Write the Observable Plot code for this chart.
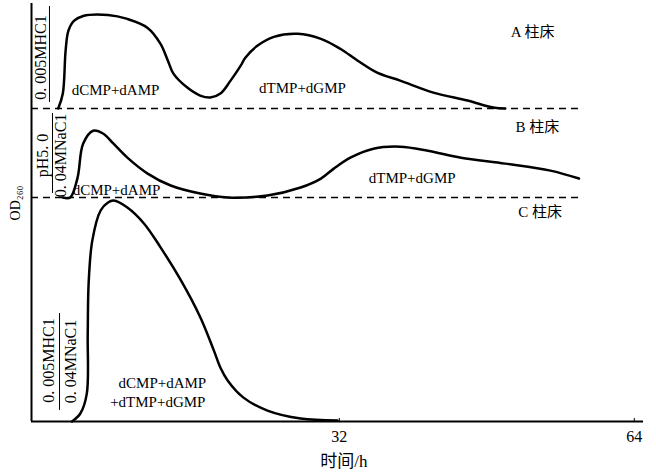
<!DOCTYPE html>
<html><head><meta charset="utf-8">
<script src="https://cdn.jsdelivr.net/npm/d3@7"></script>
<script src="https://cdn.jsdelivr.net/npm/@observablehq/plot@0.6"></script>
<style>body{margin:0;background:#fff}</style>
</head><body><div id="chart"></div>
<script>
// ---- data ----
const xTicks = [32, 64];
const xLabel = "时间/h";
const yLabel = "OD₂₆₀";
const columnNames = ["A 柱床", "B 柱床", "C 柱床"];
const columnOffsets = [3.145, 2.251, 0]; // OD offset of each column's baseline

const timeA = [1.5, 2.0, 2.3, 2.6, 3.2, 4.2, 6.9, 9.0, 11.2, 12.6, 13.4, 14.0, 15.5, 16.9, 18.0, 19.1, 20.2, 21.3, 21.8, 23.1, 24.9, 27.5, 30.0, 32.1, 34.0, 36.1, 38.6, 42.2, 45.9, 48.7, 50.0];
const odA   = [0, 0.15, 0.58, 0.78, 0.88, 0.93, 0.94, 0.90, 0.81, 0.65, 0.48, 0.35, 0.21, 0.13, 0.11, 0.15, 0.28, 0.43, 0.51, 0.63, 0.72, 0.75, 0.70, 0.60, 0.48, 0.36, 0.28, 0.16, 0.08, 0.01, 0];

const timeB = [2.0, 2.8, 3.6, 4.2, 5.3, 6.4, 7.5, 9.0, 11.2, 13.7, 16.9, 19.9, 24.2, 27.8, 30.0, 31.4, 33.2, 35.7, 38.6, 41.6, 45.2, 50.0, 54.9, 58.0];
const odB   = [0, 0, 0.20, 0.54, 0.67, 0.64, 0.54, 0.40, 0.24, 0.12, 0.04, 0, 0.02, 0.10, 0.19, 0.29, 0.40, 0.49, 0.51, 0.47, 0.40, 0.34, 0.27, 0.19];

const timeC = [3.0, 3.9, 4.6, 4.7, 4.8, 5.2, 6.1, 6.9, 7.5, 9.0, 10.8, 12.6, 14.8, 16.9, 18.4, 19.1, 19.9, 21.6, 24.2, 27.8, 31.8];
const odC   = [0, 0.08, 0.28, 0.88, 1.39, 1.82, 2.12, 2.20, 2.22, 2.15, 1.99, 1.75, 1.42, 1.05, 0.71, 0.54, 0.41, 0.24, 0.11, 0.03, 0.01];

const peakLabels = ["dCMP+dAMP", "dTMP+dGMP", "dCMP+dAMP", "dTMP+dGMP", "dCMP+dAMP", "+dTMP+dGMP"];
const eluentLabels = ["0. 005MHC1", "pH5. 0", "0. 04MNaC1", "0. 005MHC1", "0. 04MNaC1"];

// ---- build ----
const serif = "'Liberation Serif','Times New Roman','Noto Sans CJK SC',serif";
const toRows = (t, v, off) => t.map((x, i) => ({t: x, v: v[i] + off}));
const X0 = -1.4, X1 = 65;

const txt = (rows, opts) => Plot.text(rows, {x: "x", y: "y", text: "s", fill: "#000", fontFamily: serif, ...opts});

const chart = Plot.plot({
  width: 656, height: 473,
  marginLeft: 31, marginRight: 13, marginTop: 3, marginBottom: 52,
  x: {domain: [X0, X1]},
  y: {domain: [0, 4.2], axis: null},
  style: {fontFamily: serif, background: "#fff", color: "#000", overflow: "visible"},
  marks: [
    Plot.ruleY([columnOffsets[0], columnOffsets[1]], {x1: X0, x2: 58.5, stroke: "#000", strokeWidth: 1.5, strokeDasharray: "7,5"}),
    Plot.line(toRows(timeA, odA, columnOffsets[0]), {x: "t", y: "v", curve: "catmull-rom", stroke: "#000", strokeWidth: 2.5}),
    Plot.line(toRows(timeB, odB, columnOffsets[1]), {x: "t", y: "v", curve: "catmull-rom", stroke: "#000", strokeWidth: 2.5}),
    Plot.line(toRows(timeC, odC, columnOffsets[2]), {x: "t", y: "v", curve: "catmull-rom", stroke: "#000", strokeWidth: 2.5}),
    Plot.ruleX([X0], {y1: 0, y2: 4.2, stroke: "#000", strokeWidth: 2}),
    Plot.ruleY([0], {x1: X0, x2: X1, stroke: "#000", strokeWidth: 2}),
    Plot.ruleX(xTicks, {y1: 0, y2: 0.03, stroke: "#000", strokeWidth: 1}),
    Plot.axisX(xTicks, {tickSize: 0, tickPadding: 9, fontSize: 16, label: null, fontFamily: serif}),
    txt([{x: 32.5, y: -0.40, s: xLabel}], {fontSize: 17}),
    txt([{x: -3.14, y: 2.02, s: yLabel}], {fontSize: 14, rotate: -90, textAnchor: "start"}),
    // column names
    txt([
      {x: 50.6, y: 3.909, s: columnNames[0]},
      {x: 51.1, y: 2.954, s: columnNames[1]},
      {x: 51.4, y: 2.100, s: columnNames[2]}
    ], {fontSize: 15, textAnchor: "start"}),
    // peak labels
    txt([
      {x: 7.72, y: 3.326, s: peakLabels[0]},
      {x: 28.0, y: 3.346, s: peakLabels[1]},
      {x: 7.82, y: 2.321, s: peakLabels[2]},
      {x: 39.9, y: 2.442, s: peakLabels[3]},
      {x: 12.8, y: 0.382, s: peakLabels[4]},
      {x: 12.3, y: 0.191, s: peakLabels[5]}
    ], {fontSize: 15}),
    // eluent labels (rotated)
    txt([
      {x: -0.37, y: 3.658, s: eluentLabels[0]},
      {x: -0.21, y: 2.673, s: eluentLabels[1]},
      {x: 1.75, y: 2.673, s: eluentLabels[2]},
      {x: 0.50, y: 0.613, s: eluentLabels[3]},
      {x: 2.89, y: 0.603, s: eluentLabels[4]}
    ], {fontSize: 16, rotate: -90}),
    // fraction bars
    Plot.ruleX([{x: 0.55, a: 3.205, b: 4.17}, {x: 0.88, a: 2.291, b: 3.095}, {x: 1.64, a: 0.111, b: 1.085}], {x: "x", y1: "a", y2: "b", stroke: "#000", strokeWidth: 1})
  ]
});
document.getElementById("chart").append(chart);
</script>
</body></html>
